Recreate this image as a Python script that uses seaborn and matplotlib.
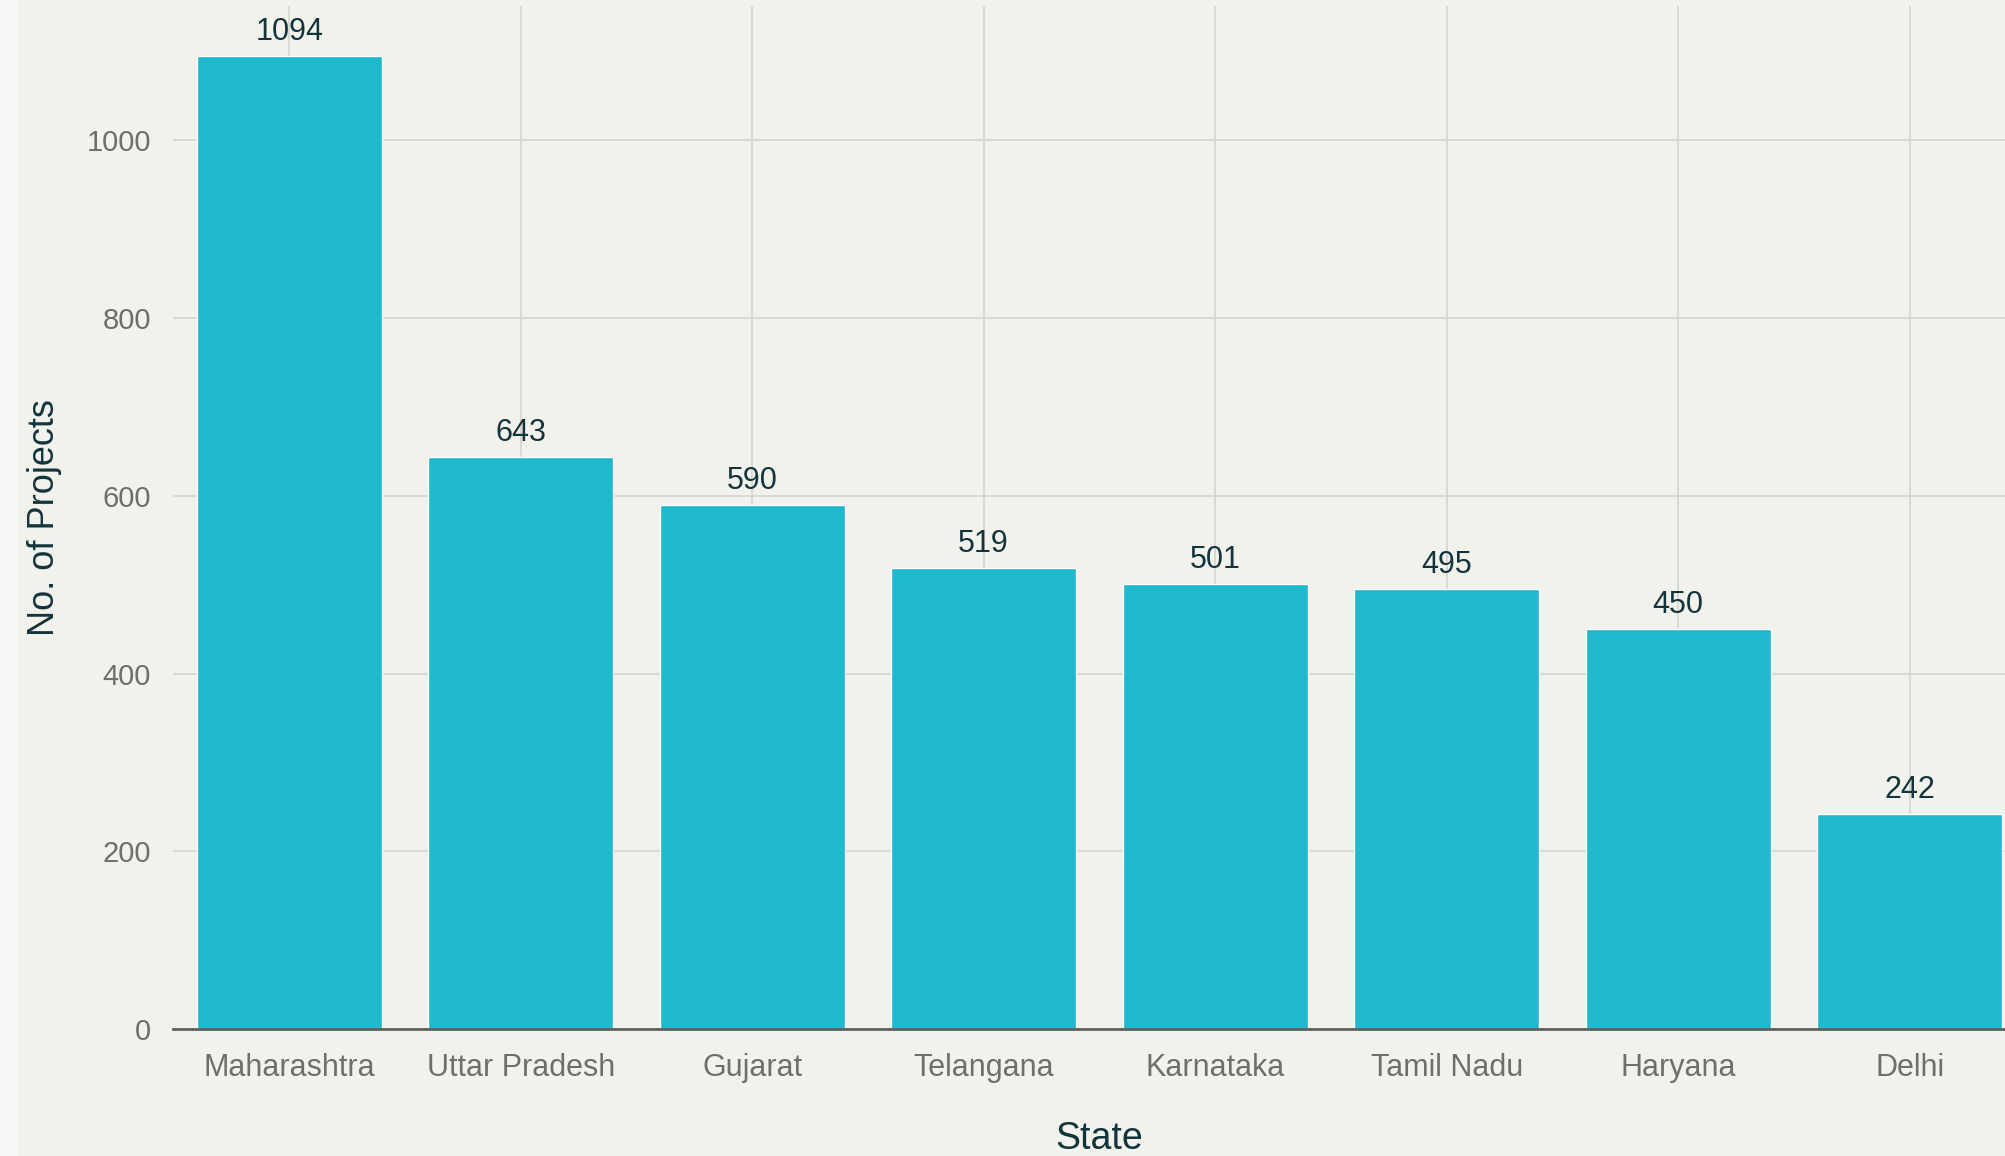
import matplotlib
matplotlib.use("Agg")
import matplotlib.pyplot as plt
import matplotlib.patches as mpatches
import seaborn as sns
import pandas as pd

# chart data
states = ['Maharashtra', 'Uttar Pradesh', 'Gujarat', 'Telangana',
          'Karnataka', 'Tamil Nadu', 'Haryana', 'Delhi']
projects = [1094, 643, 590, 519, 501, 495, 450, 242]
y_ticks = [0, 200, 400, 600, 800, 1000]

BG = '#f2f2ed'
BAR = '#1fb8cd'
TXT = '#13343b'
TICK = '#6e6e6e'

sns.set_style("whitegrid")
plt.rcParams['font.family'] = ['Liberation Sans', 'DejaVu Sans']

df = pd.DataFrame({'State': states, 'Projects': projects})

fig = plt.figure(figsize=(20.05, 11.56), dpi=100, facecolor=BG)
# lighter strip on the far left edge
fig.patches.append(mpatches.Rectangle((0, 0), 17 / 2005, 1, transform=fig.transFigure,
                                      facecolor='#f7f7f5', edgecolor='none', zorder=0))
ax = fig.add_axes([0.0865, 0.1095, 0.9237, 0.885])
ax.set_facecolor(BG)

sns.barplot(data=df, x='State', y='Projects', color=BAR, saturation=1,
            width=0.8, ax=ax, zorder=3)

for i, v in enumerate(projects):
    ax.text(i, v + 10, str(v), ha='center', va='bottom', fontsize=22, color=TXT, zorder=4)

ax.set_xlim(-0.5, 7.5)
ax.set_ylim(0, 1150)
ax.set_yticks(y_ticks)

ax.grid(True, color='#d4d4d0', linewidth=1.2, zorder=0)
ax.set_axisbelow(True)
for s in ['top', 'right', 'left']:
    ax.spines[s].set_visible(False)
ax.spines['bottom'].set_color('#5f5f5f')
ax.spines['bottom'].set_linewidth(2)
ax.spines['bottom'].set_zorder(5)

ax.tick_params(axis='both', colors='#c8c8c4', labelcolor=TICK,
               length=8, width=1.2, pad=8)
ax.tick_params(axis='x', labelsize=22, pad=9)
ax.tick_params(axis='y', labelsize=21)

ax.set_xlabel('State', fontsize=27, color=TXT, labelpad=27)
ax.set_ylabel('No. of Projects', fontsize=26, color=TXT, labelpad=18)

fig.savefig('out.png', dpi=100, facecolor=BG)
